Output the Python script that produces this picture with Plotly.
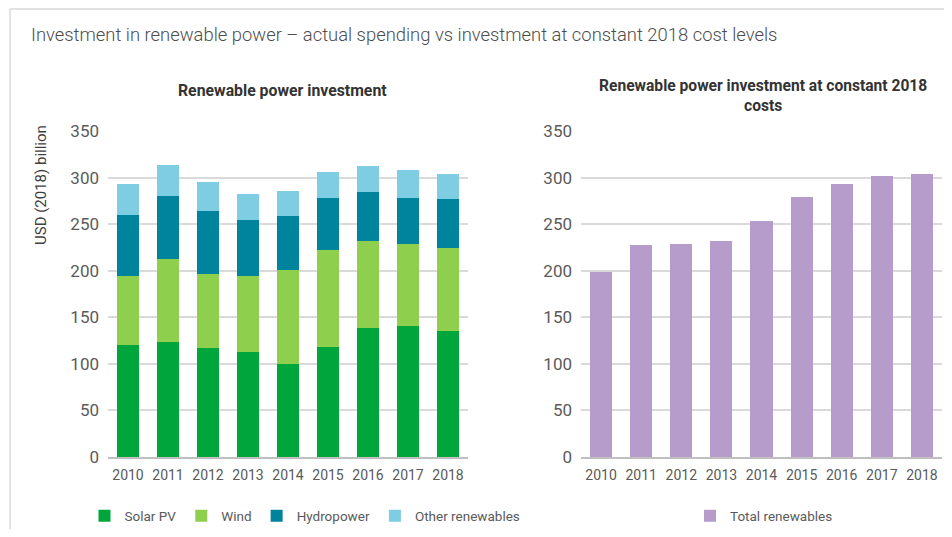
import plotly.graph_objects as go

years = ["2010", "2011", "2012", "2013", "2014", "2015", "2016", "2017", "2018"]
solar_pv = [120, 124, 117, 113, 100, 118, 139, 141, 135]
wind = [74, 89, 80, 81, 101, 104, 93, 88, 89]
hydropower = [66, 67, 67, 60, 58, 56, 53, 49, 53]
other_renewables = [33, 33, 31, 28, 27, 28, 27, 30, 27]
total_constant_2018 = [199, 228, 229, 232, 253, 279, 293, 302, 304]
y_ticks = [0, 50, 100, 150, 200, 250, 300, 350]

FONT = "Roboto"
GRAY = "#5A5A5A"
# page has an 8px body margin; figure is sized to fit the 952x537 window
OFF = 8
W, H = 952 - 2 * OFF, 537 - 2 * OFF


def px(x):
    return (x - OFF) / W


def py(y):
    return 1 - (y - OFF) / H


fig = go.Figure()
left_series = [
    ("Solar PV", solar_pv, "#00A63C"),
    ("Wind", wind, "#8ED04E"),
    ("Hydropower", hydropower, "#00849E"),
    ("Other renewables", other_renewables, "#7FCDE2"),
]
for name, vals, col in left_series:
    fig.add_trace(go.Bar(x=years, y=vals, name=name, marker=dict(color=col, line=dict(width=0)),
                         xaxis="x", yaxis="y", legend="legend"))
fig.add_trace(go.Bar(x=years, y=total_constant_2018, name="Total renewables",
                     marker=dict(color="#B59CCB", line=dict(width=0)),
                     xaxis="x2", yaxis="y2", legend="legend2"))

ydom = [py(457), py(131)]
yax = dict(range=[0, 350], tickvals=y_ticks, showgrid=True, gridcolor="#DADADA", gridwidth=1.5,
           zeroline=False, showline=False, ticks="", automargin=False, ticklabelstandoff=8,
           tickfont=dict(family=FONT, size=17, color=GRAY), fixedrange=True)
xax = dict(type="category", showline=True, linecolor="#BFBFBF", linewidth=1.5, showgrid=False, ticks="",
           automargin=False, ticklabelstandoff=4,
           tickfont=dict(family=FONT, size=14, color=GRAY), fixedrange=True)

legend_font = dict(family=FONT, size=13.5, color=GRAY)

fig.update_layout(
    template="none",
    width=W, height=H,
    margin=dict(l=0, r=0, t=0, b=0, autoexpand=False),
    paper_bgcolor="white", plot_bgcolor="white",
    barmode="stack", bargap=0.45,
    showlegend=True,
    font=dict(family=FONT, color=GRAY),
    xaxis=dict(domain=[px(108), px(468)], anchor="y", **xax),
    yaxis=dict(domain=ydom, anchor="x", **yax),
    xaxis2=dict(domain=[px(581), px(942)], anchor="y2", **xax),
    yaxis2=dict(domain=ydom, anchor="x2", **yax),
    legend=dict(orientation="h", x=px(305), y=py(516), xanchor="center", yanchor="middle",
                font=legend_font, itemwidth=30, traceorder="normal",
                bgcolor="rgba(0,0,0,0)"),
    legend2=dict(orientation="h", x=px(764), y=py(516), xanchor="center", yanchor="middle",
                 font=legend_font, itemwidth=30,
                 bgcolor="rgba(0,0,0,0)"),
    shapes=[
        dict(type="line", xref="paper", yref="paper", x0=px(10), x1=1, y0=py(9), y1=py(9),
             line=dict(color="#D9D9D9", width=1.5)),
        dict(type="line", xref="paper", yref="paper", x0=px(10), x1=px(10), y0=0, y1=py(9),
             line=dict(color="#D9D9D9", width=1.5)),
    ],
    annotations=[
        dict(text="Investment in renewable power \u2013 actual spending vs investment at constant 2018 cost levels",
             xref="paper", yref="paper", x=px(29), y=py(35), xanchor="left", yanchor="middle",
             showarrow=False, font=dict(family=FONT, size=18.4, color="#4D4D4D", weight=300)),
        dict(text="<b>Renewable power investment</b>", xref="paper", yref="paper",
             x=px(282), y=py(90), xanchor="center", yanchor="middle", showarrow=False,
             font=dict(family=FONT, size=15.8, color="#333333")),
        dict(text="<b>Renewable power investment at constant 2018<br>costs</b>", xref="paper", yref="paper",
             x=px(763), y=py(96), xanchor="center", yanchor="middle", showarrow=False,
             font=dict(family=FONT, size=15.6, color="#333333")),
        dict(text="USD (2018) billion", xref="paper", yref="paper", x=px(41), y=py(185),
             xanchor="center", yanchor="middle", textangle=-90, showarrow=False,
             font=dict(family=FONT, size=15, color="#404040")),
    ],
)

fig.write_html("out.html")
